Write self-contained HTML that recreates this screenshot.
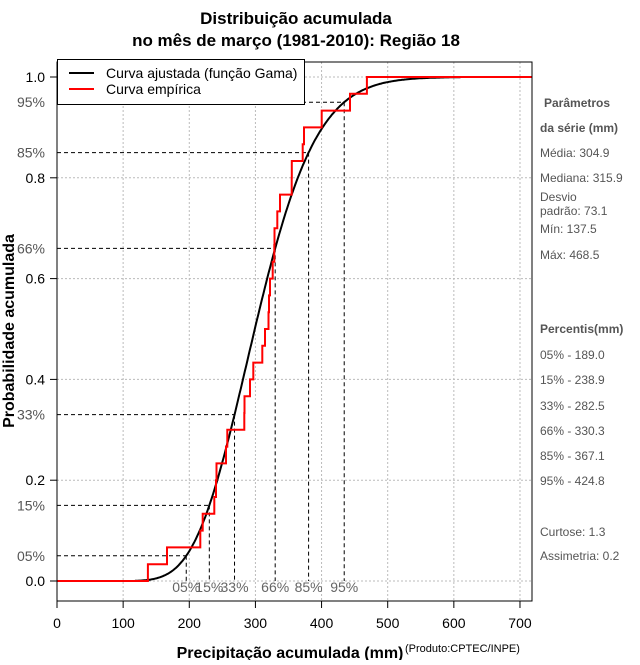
<!DOCTYPE html>
<html><head><meta charset="utf-8"><style>
body{margin:0;background:#fff;width:640px;height:660px;overflow:hidden;font-family:"Liberation Sans",sans-serif}
svg text{font-family:"Liberation Sans",sans-serif}
</style></head><body>
<svg id="c" width="640" height="660" xmlns="http://www.w3.org/2000/svg">
<text x="296" y="24" text-anchor="middle" font-size="17" font-weight="bold">Distribuição acumulada</text>
<text x="296" y="46" text-anchor="middle" font-size="17" font-weight="bold">no mês de março (1981-2010): Região 18</text>
<g id="grid"></g>
<g id="qlines"></g>
<g id="series"></g>
<g id="axes"></g>
<rect x="57" y="62" width="475" height="539" fill="none" stroke="#000" stroke-width="1"/>
<g>
<rect x="57.5" y="59.5" width="247" height="45" fill="#fff" stroke="#000"/>
<line x1="69" y1="73" x2="94" y2="73" stroke="#000" stroke-width="2"/>
<text x="106" y="78" font-size="14">Curva ajustada (função Gama)</text>
<line x1="69" y1="89" x2="94" y2="89" stroke="#f00" stroke-width="2"/>
<text x="106" y="94" font-size="14">Curva empírica</text>
</g>
<text transform="translate(14,331) rotate(-90)" text-anchor="middle" font-size="16" font-weight="bold">Probabilidade acumulada</text>
<text x="290" y="658" text-anchor="middle" font-size="16" font-weight="bold">Precipitação acumulada (mm)</text>
<text x="405" y="652" font-size="11">(Produto:CPTEC/INPE)</text>
<g fill="#555" font-size="12">
<text x="544" y="107" font-weight="bold">Parâmetros</text>
<text x="540" y="132" font-weight="bold">da série (mm)</text>
<text x="540" y="157">Média: 304.9</text>
<text x="540" y="182">Mediana: 315.9</text>
<text x="540" y="201">Desvio</text>
<text x="540" y="215">padrão: 73.1</text>
<text x="540" y="233">Mín: 137.5</text>
<text x="540" y="259">Máx: 468.5</text>
<text x="540" y="333" font-weight="bold">Percentis(mm)</text>
<text x="540" y="359">05% - 189.0</text>
<text x="540" y="384">15% - 238.9</text>
<text x="540" y="410">33% - 282.5</text>
<text x="540" y="435">66% - 330.3</text>
<text x="540" y="460">85% - 367.1</text>
<text x="540" y="485">95% - 424.8</text>
<text x="540" y="536">Curtose: 1.3</text>
<text x="540" y="560">Assimetria: 0.2</text>
</g>
</svg>
<script>
const xTicks=[0,100,200,300,400,500,600,700];
const yTicks=[0,0.2,0.4,0.6,0.8,1.0];
const yTickLabels=["0.0","0.2","0.4","0.6","0.8","1.0"];
const pctProbs=[0.05,0.15,0.33,0.66,0.85,0.95];
const pctLabels=["05%","15%","33%","66%","85%","95%"];
const gammaMean=[304.9];
const gammaSd=[73.1];
const sample=[137.5,166.3,216.7,220.3,237.8,240.4,241.2,255.5,257.5,283.2,283.5,291.8,296.8,310.4,314.5,319.8,320.5,322,326.1,328.5,328.8,333.1,337.2,354.9,355,371.5,373.4,400.2,443,468.5];
const curveRange=[118,610];

const NS="http://www.w3.org/2000/svg";
const X=v=>57+v*0.6614, Y=p=>581-p*504;
function mk(parent,tag,attrs){const e=document.createElementNS(NS,tag);for(const k in attrs)e.setAttribute(k,attrs[k]);document.getElementById(parent).appendChild(e);return e;}
function lnG(z){const g=7,c=[0.99999999999980993,676.5203681218851,-1259.1392167224028,771.32342877765313,-176.61502916214059,12.507343278686905,-0.13857109526572012,9.9843695780195716e-6,1.5056327351493116e-7];z-=1;let x=c[0];for(let i=1;i<g+2;i++)x+=c[i]/(z+i);const t=z+g+0.5;return 0.5*Math.log(2*Math.PI)+(z+0.5)*Math.log(t)-t+Math.log(x);}
const k=(gammaMean[0]/gammaSd[0])**2, th=gammaSd[0]**2/gammaMean[0];
function cdf(v){if(v<=0)return 0;const x=v/th;let s=1/k,t=1/k;for(let n=1;n<500;n++){t*=x/(k+n);s+=t;if(t<1e-12*s)break;}return Math.min(1,s*Math.exp(-x+k*Math.log(x)-lnG(k)));}
function q(p){let a=0,b=2000;for(let i=0;i<60;i++){const m=(a+b)/2;if(cdf(m)<p)a=m;else b=m;}return (a+b)/2;}

// grid
xTicks.forEach((t,i)=>{const l=mk('grid','line',{x1:X(t),x2:X(t),y1:62,y2:601,stroke:i==0?'#000':'#bbb','stroke-dasharray':'2,2'});

});
yTicks.forEach(t=>{const l=mk('grid','line',{x1:57,x2:532,y1:Y(t),y2:Y(t),stroke:'#bbb','stroke-dasharray':'2,2'});

});
// axes ticks
xTicks.forEach(t=>{const l=mk('axes','line',{x1:X(t),x2:X(t),y1:601,y2:608,stroke:'#000'});


const s=mk('axes','text',{x:X(t),y:628,'text-anchor':'middle','font-size':14});s.textContent=t;

});
yTicks.forEach((t,i)=>{const l=mk('axes','line',{x1:50,x2:57,y1:Y(t),y2:Y(t),stroke:'#000'});


const s=mk('axes','text',{x:45,y:Y(t)+5,'text-anchor':'end','font-size':14});s.textContent=yTickLabels[i];

});
// percentile guides
pctProbs.forEach((p,i)=>{const v=q(p),px=X(v),py=Y(p);
const h=mk('qlines','line',{x1:57,x2:px,y1:py,y2:py,stroke:'#000','stroke-dasharray':'4,3'});


const vl=mk('qlines','line',{x1:px,x2:px,y1:py,y2:581,stroke:'#000','stroke-dasharray':'4,3'});


const a=mk('qlines','text',{x:45,y:py+5,'text-anchor':'end','font-size':14,fill:'#555'});a.textContent=pctLabels[i];


const b=mk('qlines','text',{x:px,y:592,'text-anchor':'middle','font-size':14,fill:'#666'});b.textContent=pctLabels[i];

});
// fitted curve
let d='';for(let v=curveRange[0];v<=curveRange[1];v+=2){d+=(d?'L':'M')+X(v).toFixed(1)+','+Y(cdf(v)).toFixed(1);}
const cp=mk('series','path',{d:d,fill:'none',stroke:'#000','stroke-width':2});


// empirical step
const n=sample.length;let e='M57,'+Y(0);
sample.forEach((v,i)=>{e+='L'+X(v).toFixed(1)+','+Y(i/n).toFixed(1)+'L'+X(v).toFixed(1)+','+Y((i+1)/n).toFixed(1);});
e+='L532,'+Y(1);
const ep=mk('series','path',{d:e,fill:'none',stroke:'#f00','stroke-width':2});


</script>
</body></html>
